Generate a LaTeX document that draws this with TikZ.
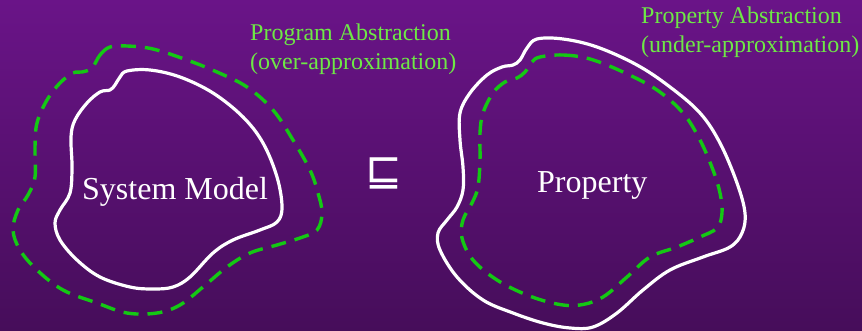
\documentclass[tikz,border=0pt]{standalone}
\usepackage{fontspec}
\setmainfont{Liberation Serif}
\newfontfamily\symbolfont{DejaVu Sans}
\usetikzlibrary{positioning}
\definecolor{bgtop}{RGB}{106,20,136}
\definecolor{bgbot}{RGB}{70,13,90}
\definecolor{labelgreen}{RGB}{110,232,70}
\definecolor{dashgreen}{RGB}{20,200,20}
\tikzset{
  region/.style={white, line width=3.2pt, line join=round},
  abstr/.style={dashgreen, line width=3.4pt, dash pattern=on 15pt off 9pt},
  bigtext/.style={text=white, inner sep=0pt, font=\fontsize{32}{38}\selectfont},
  abstrlabel/.style={text=labelgreen, inner sep=0pt, align=left, font=\fontsize{24}{29}\selectfont}
}
\begin{document}
\begin{tikzpicture}[x=1pt, y=-1pt]
  % background
  \shade[top color=bgtop, bottom color=bgbot] (0,0) rectangle (862,331);
  \useasboundingbox (0,0) rectangle (862,331);

  % system model and its over-approximation
  \draw[abstr] plot[smooth cycle, tension=0.6] coordinates {
    (92,68) (100,55) (110,47) (127,46) (153,49) (187,60) (217,72) (247,87)
    (273,110) (293,140) (310,170) (318,193) (322,213) (317,230) (300,238)
    (277,245) (250,253) (227,267) (203,287) (180,305) (157,313) (127,313)
    (97,303) (63,290) (37,270) (20,250) (13,230) (18,210) (28,195) (35,177)
    (35,147) (37,123) (47,100) (60,83) (73,73) (82,72)};
  \draw[region] plot[smooth cycle, tension=0.6] coordinates {
    (127,71) (150,70) (180,77) (213,93) (243,117) (263,143) (277,177)
    (282,207) (277,222) (260,230) (233,240) (213,253) (190,277) (173,287)
    (153,289) (130,287) (100,277) (77,260) (60,240) (55,223) (60,210)
    (70,193) (72,167) (71,137) (75,120) (87,103) (100,92) (110,90)
    (115,85) (120,77)};

  % property and its under-approximation
  \draw[region] plot[smooth cycle, tension=0.6] coordinates {
    (537,39) (563,39) (597,47) (637,65) (670,87) (700,113) (720,143)
    (737,183) (745,213) (742,233) (730,247) (703,257) (670,270) (643,290)
    (617,313) (593,327) (570,328) (543,323) (513,313) (483,300) (457,277)
    (440,250) (438,233) (447,220) (457,207) (463,190) (463,167) (460,140)
    (460,113) (470,93) (487,75) (502,67) (513,65) (520,60) (527,48)};
  \draw[abstr] plot[smooth cycle, tension=0.6] coordinates {
    (540,57) (563,55) (590,59) (623,72) (657,90) (683,113) (700,140)
    (713,170) (720,193) (722,213) (717,228) (700,237) (677,247) (650,257)
    (627,277) (603,297) (580,305) (557,304) (527,295) (497,280) (473,260)
    (462,238) (463,220) (472,203) (478,187) (480,160) (480,133) (483,113)
    (493,93) (505,82) (517,78) (525,72) (532,62)};

  \node[bigtext, anchor=base west] (sysmodel) at (82,200) {System Model};
  \node[bigtext, anchor=base west] (property) at (537,193) {Property};
  \node[text=white, inner sep=0pt, font=\symbolfont\fontsize{44}{44}\selectfont] (incl) at (384,173) {⊑};

  \node[abstrlabel, anchor=base west] (progabs) at (250,70)
    {Program Abstraction\\(over-approximation)};
  \node[abstrlabel, anchor=base west] (propabs) at (641,53)
    {Property Abstraction\\(under-approximation)};
\end{tikzpicture}
\end{document}
